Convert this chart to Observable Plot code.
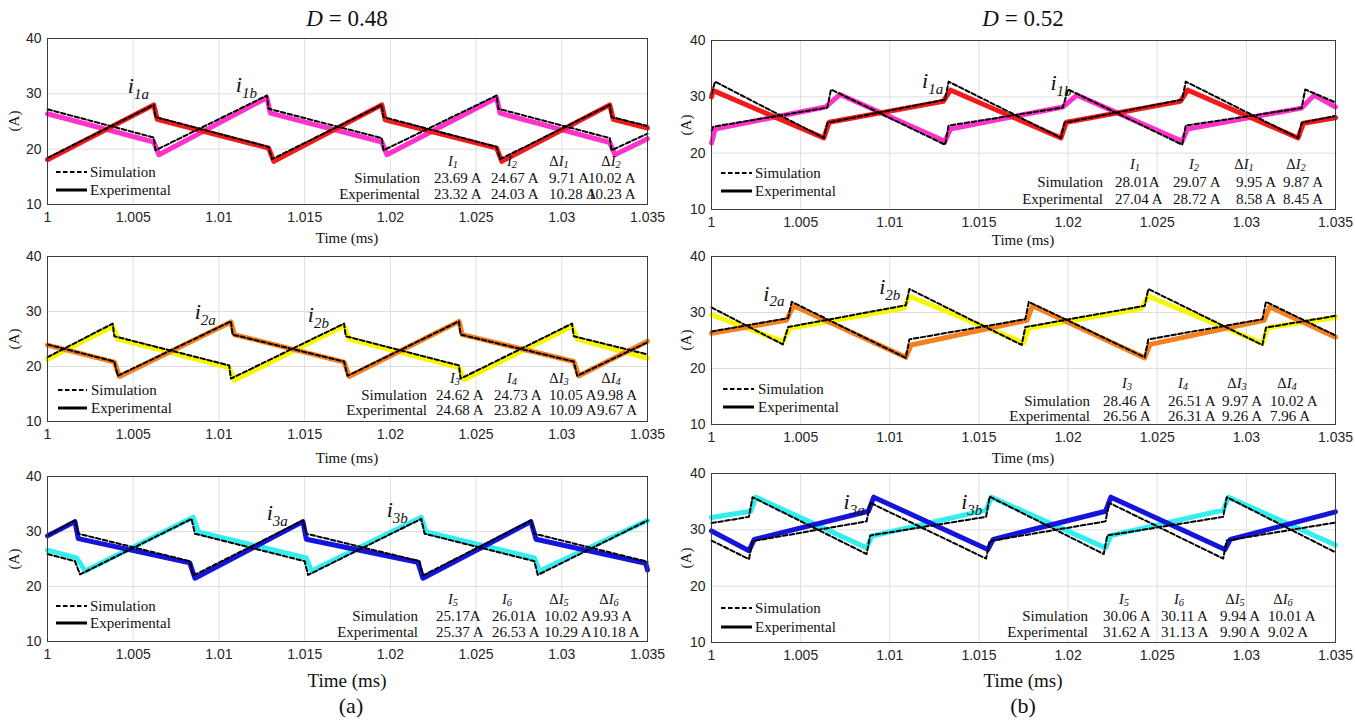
<!DOCTYPE html>
<html><head><meta charset="utf-8">
<script src="https://cdn.jsdelivr.net/npm/d3@7"></script>
<script src="https://cdn.jsdelivr.net/npm/@observablehq/plot@0.6"></script>
<style>
body{margin:0;background:#fff;}
#root{position:relative;width:1355px;height:720px;overflow:hidden;background:#fff;font-family:"Liberation Serif","Times New Roman",serif;color:#111;}
.abs{position:absolute;white-space:nowrap;line-height:1;}
.abs sub{font-size:0.72em;vertical-align:-0.25em;line-height:0;}
</style></head><body><div id="root"></div>
<script>
// ---------- axis ticks ----------
const xTicks = [1, 1.005, 1.01, 1.015, 1.02, 1.025, 1.03, 1.035];
const xTickLabels = ["1", "1.005", "1.01", "1.015", "1.02", "1.025", "1.03", "1.035"];
const yTicks = [10, 20, 30, 40];
const yTickLabels = ["10", "20", "30", "40"];
const dutyValues = ["0.48", "0.52"];
const captions = ["(a)", "(b)"];
const tableRows = ["Simulation", "Experimental"];
const legendItems = ["Simulation", "Experimental"];

// ---------- (a) D = 0.48 : phase 1 (time ms, current A) ----------
const a1ExpA = [[1.0,18.1],[1.0062,28.0],[1.0064,25.4],[1.0129,20.2],[1.0132,17.8],[1.0195,28.0],[1.0197,25.3],[1.0262,20.2],[1.0265,17.8],[1.0328,28.0],[1.033,25.4],[1.035,23.8]];
const a1ExpB = [[1.0,26.4],[1.0062,21.3],[1.0065,19.0],[1.0128,29.3],[1.013,26.5],[1.0195,21.3],[1.0198,19.0],[1.0262,29.3],[1.0264,26.5],[1.0328,21.2],[1.0331,19.0],[1.035,21.9]];
const a1SimA = [[1.0,18.4],[1.0062,28.0],[1.0063,25.8],[1.0129,20.4],[1.0131,18.2],[1.0195,28.0],[1.0196,25.8],[1.0262,20.4],[1.0264,18.2],[1.0328,28.0],[1.0329,25.8],[1.035,24.2]];
const a1SimB = [[1.0,27.2],[1.0062,22.1],[1.0063,19.8],[1.0128,29.7],[1.0129,27.3],[1.0195,22.0],[1.0196,19.8],[1.0262,29.7],[1.0263,27.3],[1.0328,22.0],[1.0329,19.8],[1.035,22.8]];
const a1Labels = [{t:1.0053, A:31.4, main:"i", sub:"1a"}, {t:1.0116, A:31.6, main:"i", sub:"1b"}];
const a1Sim = ["23.69 A", "24.67 A", "9.71 A", "10.02 A"];
const a1Exp = ["23.32 A", "24.03 A", "10.28 A", "10.23 A"];

// ---------- (a) phase 2 ----------
const a2ExpA = [[1.0,23.9],[1.0039,20.8],[1.0042,18.2],[1.0107,28.1],[1.0109,25.8],[1.0173,20.8],[1.0176,18.2],[1.024,28.2],[1.0242,25.8],[1.0307,20.9],[1.031,18.3],[1.035,24.6]];
const a2ExpB = [[1.0,21.3],[1.0038,27.3],[1.0041,25.0],[1.0106,19.8],[1.0109,17.5],[1.0173,27.4],[1.0176,25.0],[1.024,19.8],[1.0243,17.6],[1.0306,27.3],[1.0309,25.0],[1.035,21.5]];
const a2SimA = [[1.0,24.0],[1.0039,20.9],[1.0041,18.3],[1.0107,28.2],[1.0108,25.8],[1.0173,20.9],[1.0175,18.3],[1.024,28.2],[1.0241,25.8],[1.0307,20.9],[1.0309,18.3],[1.035,24.4]];
const a2SimB = [[1.0,21.7],[1.0038,27.8],[1.0039,25.5],[1.0106,20.2],[1.0107,17.8],[1.0173,27.8],[1.0174,25.5],[1.024,20.2],[1.0241,17.8],[1.0306,27.8],[1.0307,25.5],[1.035,22.2]];
const a2Labels = [{t:1.0092, A:29.9, main:"i", sub:"2a"}, {t:1.0158, A:29.3, main:"i", sub:"2b"}];
const a2Sim = ["24.62 A", "24.73 A", "10.05 A", "9.98 A"];
const a2Exp = ["24.68 A", "23.82 A", "10.09 A", "9.67 A"];

// ---------- (a) phase 3 ----------
const a3ExpA = [[1.0,29.2],[1.0016,31.8],[1.0018,28.7],[1.0083,24.3],[1.0086,21.5],[1.0149,31.8],[1.0151,28.6],[1.0216,24.4],[1.0219,21.5],[1.0282,31.8],[1.0285,28.6],[1.0349,24.2],[1.035,23.0]];
const a3ExpB = [[1.0,26.6],[1.0017,25.2],[1.0022,22.8],[1.0085,32.6],[1.0088,29.9],[1.0151,25.2],[1.0154,22.8],[1.0218,32.6],[1.0221,29.9],[1.0284,25.2],[1.0287,22.8],[1.035,32.0]];
const a3SimA = [[1.0,29.3],[1.0016,32.0],[1.0018,29.6],[1.0083,24.6],[1.0085,22.0],[1.0149,32.0],[1.0151,29.6],[1.0217,24.6],[1.0219,22.0],[1.0282,32.0],[1.0284,29.6],[1.035,24.5]];
const a3SimB = [[1.0,25.9],[1.0016,24.6],[1.0019,22.2],[1.0084,32.3],[1.0086,29.6],[1.015,24.6],[1.0152,22.1],[1.0218,32.3],[1.022,29.6],[1.0284,24.6],[1.0286,22.1],[1.035,32.0]];
const a3Labels = [{t:1.0134, A:33.3, main:"i", sub:"3a"}, {t:1.0204, A:33.9, main:"i", sub:"3b"}];
const a3Sim = ["25.17A", "26.01A", "10.02 A", "9.93 A"];
const a3Exp = ["25.37 A", "26.53 A", "10.29 A", "10.18 A"];

// ---------- (b) D = 0.52 : phase 1 ----------
const b1ExpA = [[1.0,30.0],[1.0001,31.1],[1.0063,22.7],[1.0066,25.5],[1.013,29.2],[1.0134,31.2],[1.0196,22.7],[1.0199,25.5],[1.0263,29.2],[1.0267,31.2],[1.0329,22.7],[1.0332,25.3],[1.035,26.3]];
const b1ExpB = [[1.0,21.8],[1.0002,24.3],[1.0064,28.2],[1.0072,30.4],[1.0131,22.1],[1.0134,24.3],[1.0197,28.2],[1.0205,30.3],[1.0264,22.1],[1.0267,24.3],[1.0331,28.0],[1.0338,30.3],[1.035,28.2]];
const b1SimA = [[1.0,30.5],[1.0002,32.7],[1.0063,22.7],[1.0065,25.4],[1.0131,29.5],[1.0133,32.7],[1.0196,22.7],[1.0198,25.4],[1.0264,29.5],[1.0266,32.7],[1.0329,22.7],[1.0331,25.4],[1.035,26.6]];
const b1SimB = [[1.0,24.0],[1.0001,24.7],[1.0065,28.1],[1.0067,31.3],[1.0131,21.5],[1.0133,24.9],[1.0197,28.1],[1.02,31.3],[1.0264,21.5],[1.0266,24.9],[1.0331,28.0],[1.0333,31.3],[1.035,29.0]];
const b1Labels = [{t:1.0124, A:32.9, main:"i", sub:"1a"}, {t:1.0196, A:32.5, main:"i", sub:"1b"}];
const b1Sim = ["28.01A", "29.07 A", "9.95 A", "9.87 A"];
const b1Exp = ["27.04 A", "28.72 A", "8.58 A", "8.45 A"];

// ---------- (b) phase 2 ----------
const b2ExpA = [[1.0,26.3],[1.0042,28.6],[1.0046,31.2],[1.0109,22.0],[1.0112,24.2],[1.0177,28.6],[1.018,31.2],[1.0243,21.9],[1.0246,24.3],[1.031,28.6],[1.0313,31.0],[1.035,25.6]];
const b2ExpB = [[1.0,29.6],[1.004,24.8],[1.0044,27.2],[1.0108,30.8],[1.0111,32.9],[1.0175,24.6],[1.0178,27.2],[1.0241,30.7],[1.0245,32.9],[1.0309,24.5],[1.0312,27.3],[1.035,29.1]];
const b2SimA = [[1.0,26.6],[1.0043,29.0],[1.0045,31.9],[1.0109,21.9],[1.0111,25.2],[1.0176,28.8],[1.0178,31.9],[1.0243,22.0],[1.0245,25.2],[1.0309,28.8],[1.0311,31.9],[1.035,25.9]];
const b2SimB = [[1.0,30.9],[1.004,24.3],[1.0043,27.4],[1.0109,31.3],[1.0111,34.2],[1.0174,24.2],[1.0176,27.4],[1.0243,31.2],[1.0245,34.2],[1.0309,24.2],[1.0311,27.3],[1.035,29.4]];
const b2Labels = [{t:1.0035, A:33.4, main:"i", sub:"2a"}, {t:1.0100, A:34.6, main:"i", sub:"2b"}];
const b2Sim = ["28.46 A", "26.51 A", "9.97 A", "10.02 A"];
const b2Exp = ["26.56 A", "26.31 A", "9.26 A", "7.96 A"];

// ---------- (b) phase 3 ----------
const b3ExpA = [[1.0,29.8],[1.0021,26.3],[1.0024,28.3],[1.0088,33.3],[1.0091,35.8],[1.0155,26.5],[1.0158,28.3],[1.0221,33.3],[1.0224,35.8],[1.0288,26.5],[1.0291,28.3],[1.035,33.2]];
const b3ExpB = [[1.0,32.2],[1.0022,33.3],[1.0025,35.8],[1.0087,26.8],[1.009,28.9],[1.0154,33.5],[1.0157,35.8],[1.0221,26.8],[1.0224,29.0],[1.0287,33.5],[1.029,35.8],[1.035,27.3]];
const b3SimA = [[1.0,28.1],[1.0021,24.8],[1.0023,28.0],[1.0087,31.5],[1.0089,34.8],[1.0154,24.9],[1.0156,28.0],[1.0221,31.5],[1.0223,34.8],[1.0287,24.9],[1.0289,28.1],[1.035,31.3]];
const b3SimB = [[1.0,31.2],[1.0021,32.3],[1.0023,35.8],[1.0087,25.7],[1.0089,29.0],[1.0154,32.3],[1.0156,35.9],[1.022,25.7],[1.0222,29.0],[1.0287,32.3],[1.0289,35.8],[1.035,26.0]];
const b3Labels = [{t:1.008, A:35.0, main:"i", sub:"3a"}, {t:1.0146, A:35.0, main:"i", sub:"3b"}];
const b3Sim = ["30.06 A", "30.11 A", "9.94 A", "10.01 A"];
const b3Exp = ["31.62 A", "31.13 A", "9.90 A", "9.02 A"];

// ---------- layout / style ----------
const SERIF = "Liberation Serif, Times New Roman, serif";
const SANS = "Liberation Sans, Arial, sans-serif";
const root = document.getElementById("root");

function addDiv(html, x, y, align, size, extra) {
  const d = document.createElement("div");
  d.className = "abs";
  d.innerHTML = html;
  d.style.left = x + "px";
  d.style.top = y + "px";
  d.style.fontSize = (size || 15) + "px";
  const tx = align === "right" ? "-100%" : align === "left" ? "0" : "-50%";
  d.style.transform = `translate(${tx},-50%)` + (extra || "");
  root.appendChild(d);
  return d;
}

const panels = [
  {svgX:0, svgW:680, x0:47, x1:647, y0:38, y1:204, expA:a1ExpA, expB:a1ExpB, simA:a1SimA, simB:a1SimB, colA:"#f21a1a", colB:"#ff33cc",
   labels:a1Labels, n:[1,2], sim:a1Sim, exp:a1Exp, tab:{lr:420, cl:[434,491,549,588], hc:[453,512,559,611], ry:[161,178,194]},
   leg:{l0:56, l1:87, tx:90, ry:[172,190]}, time:{y:238, size:15}},
  {svgX:0, svgW:680, x0:47, x1:647, y0:256, y1:421, expA:a2ExpA, expB:a2ExpB, simA:a2SimA, simB:a2SimB, colA:"#f5801f", colB:"#f7f700",
   labels:a2Labels, n:[3,4], sim:a2Sim, exp:a2Exp, tab:{lr:427, cl:[436,494,549,597], hc:[455,512,559,611], ry:[378,395,410]},
   leg:{l0:58, l1:87, tx:91, ry:[390,408]}, time:{y:458, size:15}},
  {svgX:0, svgW:680, x0:47, x1:647, y0:476, y1:641, expA:a3ExpA, expB:a3ExpB, simA:a3SimA, simB:a3SimB, colA:"#1414dc", colB:"#33eeee",
   labels:a3Labels, n:[5,6], sim:a3Sim, exp:a3Exp, tab:{lr:418, cl:[436,492,544,592], hc:[453,507,559,609], ry:[599,616,632]},
   leg:{l0:56, l1:87, tx:90, ry:[606,623]}, time:{y:680, size:19}},
  {svgX:680, svgW:675, x0:711, x1:1335, y0:40, y1:209, expA:b1ExpA, expB:b1ExpB, simA:b1SimA, simB:b1SimB, colA:"#f21a1a", colB:"#ff33cc",
   labels:b1Labels, n:[1,2], sim:b1Sim, exp:b1Exp, tab:{lr:1103, cl:[1115,1173,1236,1283], hc:[1135,1194,1244,1296], ry:[164,182,199]},
   leg:{l0:721, l1:752, tx:755, ry:[173,191]}, time:{y:240, size:15}},
  {svgX:680, svgW:675, x0:711, x1:1335, y0:256, y1:424, expA:b2ExpA, expB:b2ExpB, simA:b2SimA, simB:b2SimB, colA:"#f5801f", colB:"#f7f700",
   labels:b2Labels, n:[3,4], sim:b2Sim, exp:b2Exp, tab:{lr:1090, cl:[1103,1168,1222,1270], hc:[1127,1183,1237,1287], ry:[383,401,416]},
   leg:{l0:723, l1:754, tx:758, ry:[389,407]}, time:{y:458, size:15}},
  {svgX:680, svgW:675, x0:711, x1:1335, y0:473, y1:642, expA:b3ExpA, expB:b3ExpB, simA:b3SimA, simB:b3SimB, colA:"#1414dc", colB:"#33eeee",
   labels:b3Labels, n:[5,6], sim:b3Sim, exp:b3Exp, tab:{lr:1088, cl:[1103,1161,1220,1268], hc:[1124,1179,1235,1283], ry:[599,616,632]},
   leg:{l0:721, l1:752, tx:755, ry:[608,627]}, time:{y:680, size:19}}
];

panels.forEach(p => {
  const mT = 10, mB = 30;
  const line = (data, opts) => Plot.line(data, {x: d => d[0], y: d => d[1], strokeLinejoin: "round", ...opts});
  const plot = Plot.plot({
    width: p.svgW,
    height: (p.y1 - p.y0) + mT + mB,
    marginLeft: p.x0 - p.svgX,
    marginRight: p.svgX + p.svgW - p.x1,
    marginTop: mT,
    marginBottom: mB,
    x: {domain: [1, 1.035]},
    y: {domain: [10, 40]},
    style: {background: "transparent", overflow: "visible"},
    marks: [
      Plot.gridX(xTicks, {stroke: "#dedede", strokeOpacity: 1}),
      Plot.gridY(yTicks, {stroke: "#dedede", strokeOpacity: 1}),
      line(p.expB, {stroke: p.colB, strokeWidth: 5}),
      line(p.expA, {stroke: p.colA, strokeWidth: 5}),
      line(p.simB, {stroke: "#000", strokeWidth: 2, strokeDasharray: "4.5,2.5"}),
      line(p.simA, {stroke: "#000", strokeWidth: 2, strokeDasharray: "4.5,2.5"}),
      Plot.text(p.labels, {x: "t", y: "A", text: "main", fontSize: 22, fontFamily: SERIF, fontStyle: "italic", fill: "#111"}),
      Plot.frame({stroke: "#3c3c3c", strokeWidth: 1}),
      Plot.axisX(xTicks, {tickSize: 0, tickPadding: 8, fontSize: 14, fontFamily: SANS, color: "#262626", label: null,
        tickFormat: d => xTickLabels[xTicks.indexOf(d)]}),
      Plot.axisY(yTicks, {tickSize: 0, tickPadding: 6, fontSize: 14, fontFamily: SANS, color: "#262626", label: null,
        tickFormat: d => yTickLabels[yTicks.indexOf(d)]})
    ]
  });
  // add subscripts to the waveform labels
  const labTexts = Array.from(plot.querySelectorAll("text")).filter(t => t.textContent === "i");
  labTexts.forEach((node, i) => {
    const lab = p.labels[i];
    if (!lab) return;
    const el = d3.select(node);
    el.text(null);
    el.append("tspan").text(lab.main);
    el.append("tspan").attr("dy", 6).attr("font-size", 15).text(lab.sub);
  });
  plot.style.position = "absolute";
  plot.style.left = p.svgX + "px";
  plot.style.top = (p.y0 - mT) + "px";
  root.appendChild(plot);

  // y label
  addDiv("(A)", p.svgX === 0 ? 14 : 686, (p.y0 + p.y1) / 2, "center", 15, " rotate(-90deg)");
  // time label
  addDiv("Time (ms)", (p.x0 + p.x1) / 2, p.time.y, "center", p.time.size);

  // legend (inline svg line samples)
  legendItems.forEach((name, k) => {
    const y = p.leg.ry[k];
    const w = p.leg.l1 - p.leg.l0;
    addDiv(`<svg width="${w}" height="6" style="display:block"><line x1="0" x2="${w}" y1="3" y2="3" stroke="#000" stroke-width="${k ? 3 : 2.2}" ${k ? "" : 'stroke-dasharray="4.5,2.5"'}/></svg>`, p.leg.l0, y, "left", 15);
    addDiv(name, p.leg.tx, y, "left", 15);
  });

  // results table
  const heads = [`<i>I</i><sub><i>${p.n[0]}</i></sub>`, `<i>I</i><sub><i>${p.n[1]}</i></sub>`,
                 `Δ<i>I</i><sub><i>${p.n[0]}</i></sub>`, `Δ<i>I</i><sub><i>${p.n[1]}</i></sub>`];
  heads.forEach((h, j) => addDiv(h, p.tab.hc[j], p.tab.ry[0], "center", 14.5));
  addDiv(tableRows[0], p.tab.lr, p.tab.ry[1], "right", 15);
  addDiv(tableRows[1], p.tab.lr, p.tab.ry[2], "right", 15);
  p.sim.forEach((v, j) => addDiv(v, p.tab.cl[j], p.tab.ry[1], "left", 15));
  p.exp.forEach((v, j) => addDiv(v, p.tab.cl[j], p.tab.ry[2], "left", 15));
});

// column titles and captions
addDiv(`<i>D</i> = ${dutyValues[0]}`, 347, 18, "center", 23);
addDiv(`<i>D</i> = ${dutyValues[1]}`, 1023, 18, "center", 23);
addDiv(captions[0], 351, 706, "center", 22);
addDiv(captions[1], 1023, 706, "center", 22);
</script></body></html>
